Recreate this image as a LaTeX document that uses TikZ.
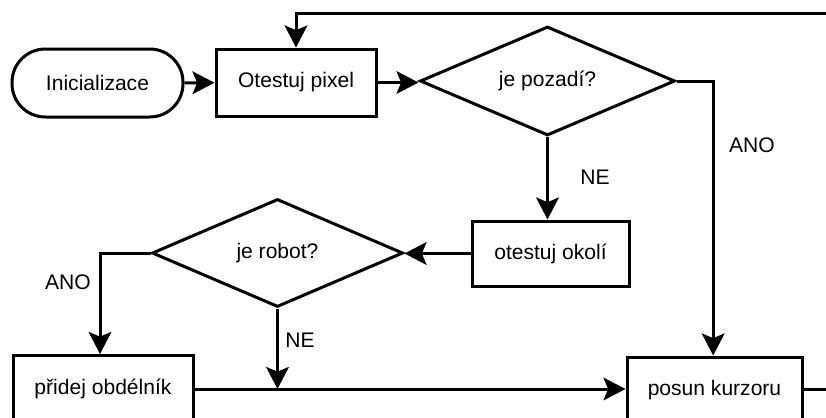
\documentclass[tikz,border=0pt]{standalone}
\usepackage{fontspec}
\setmainfont{Liberation Sans}
\usetikzlibrary{shapes.geometric,arrows.meta}
\begin{document}
\begin{tikzpicture}[x=0.75pt,y=-0.75pt,
  font=\fontsize{15.8pt}{19pt}\selectfont,
  line width=2.25pt,
  >={Stealth[length=16.5pt,width=17pt,inset=3.5pt]},
  box/.style={draw,rectangle,inner sep=0pt},
  term/.style={draw,rectangle,rounded corners=25pt,inner sep=0pt},
  decision/.style={draw,diamond,inner sep=0pt},
  lbl/.style={inner sep=0pt}]
\clip (0,0) rectangle (826,418);
\node[term,minimum width=128.25pt,minimum height=51pt] (init) at (97.5,83) {Inicializace};
\node[box,minimum width=120pt,minimum height=50.25pt] (pixel) at (296,82.5) {Otestuj pixel};
\node[decision,minimum width=191.25pt,minimum height=81.75pt,aspect=2.34] (pozadi) at (547.5,81) {je pozadí?};
\node[box,minimum width=117.75pt,minimum height=48.75pt] (okoli) at (550.5,253.5) {otestuj okolí};
\node[decision,minimum width=188.25pt,minimum height=81pt,aspect=2.32] (robot) at (277.5,253) {je robot?};
\node[box,minimum width=135pt,minimum height=50.25pt] (pridej) at (103,389) {přidej obdélník};
\node[box,minimum width=131.25pt,minimum height=50.25pt] (posun) at (714.5,390.5) {posun kurzoru};
\coordinate (c1) at (850,389);
\coordinate (c2) at (850,13);

\node[lbl] (ano1) at (752,145) {ANO};
\node[lbl] (ne1) at (595,177) {NE};
\node[lbl] (ano2) at (68,282) {ANO};
\node[lbl] (ne2) at (300,340) {NE};

\draw[->] (init) -- (pixel);
\draw[->] (pixel.east) -- (pixel.east -| pozadi.west);
\draw[->] (pozadi.south) -- (pozadi.south |- okoli.north);
\draw[->] (pozadi.east) -| ([xshift=-1pt]posun.north);
\draw[->] (okoli.west) -- (okoli.west -| robot.east);
\draw[->] (robot.west) -| ([xshift=-2.25pt]pridej.north);
\draw[->] (robot.south) -- (robot.south |- c1);
\draw[->] (pridej.east |- c1) -- (posun.west |- c1);
\draw[->] (posun.east |- c1) -- (c1) -- (c2) -| (pixel.north);
\end{tikzpicture}
\end{document}
